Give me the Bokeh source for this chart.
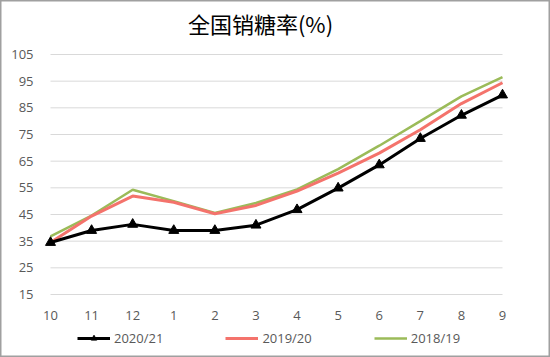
from bokeh.plotting import figure
from bokeh.models import Range1d, Legend, LegendItem, Label
from bokeh.embed import file_html
from bokeh.resources import INLINE

months = ["10", "11", "12", "1", "2", "3", "4", "5", "6", "7", "8", "9"]
s2020 = [34.5, 39.0, 41.3, 39.0, 39.0, 41.0, 46.8, 54.9, 63.6, 73.5, 82.2, 89.8]
s2019 = [34.5, 44.4, 51.9, 49.6, 45.3, 48.4, 53.8, 60.5, 68.0, 76.8, 86.6, 94.4]
s2018 = [36.8, 44.6, 54.3, 50.0, 45.6, 49.3, 54.4, 62.0, 70.8, 80.0, 89.3, 96.5]
yticks = [15, 25, 35, 45, 55, 65, 75, 85, 95, 105]
ylabels = [str(t) for t in yticks]

xs = list(range(len(months)))
W, H = 550, 357
PL, PR, PT, PB = 50, 48, 54, 63          # plot-area margins in pixels
xlo, xhi = 0, len(months) - 1
ylo, yhi = yticks[0], yticks[-1]
xpx = (W - PL - PR) / (xhi - xlo)
ypx = (H - PT - PB) / (yhi - ylo)

p = figure(width=W, height=H, output_backend="svg", toolbar_location=None,
           x_axis_location=None, y_axis_location=None,
           x_range=Range1d(xlo - PL / xpx, xhi + PR / xpx),
           y_range=Range1d(ylo - PB / ypx, yhi + PT / ypx),
           min_border=0)
p.grid.visible = False
p.outline_line_color = "#a0a0a0"
p.outline_line_width = 2
p.background_fill_color = "white"

# gridlines at the y ticks, spanning the category axis
p.segment(x0=xlo, x1=xhi, y0=yticks, y1=yticks, line_color="#d9d9d9", line_width=1)

# tick labels
p.text(x=xlo, y=yticks, text=ylabels, x_offset=-17, text_align="right", text_baseline="middle",
       text_font={"value": "Open Sans"}, text_font_size="13px", text_color="#595959")
p.text(x=xs, y=ylo, text=months, y_offset=21, text_align="center", text_baseline="middle",
       text_font={"value": "Open Sans"}, text_font_size="13px", text_color="#595959")

r3 = p.line(xs, s2018, line_color="#9bbb59", line_width=2.5)
r2 = p.line(xs, s2019, line_color="#f4736c", line_width=3)
r1 = p.line(xs, s2020, line_color="#000000", line_width=3)
m1 = p.scatter(xs, s2020, marker="triangle", size=10, fill_color="#000000", line_color="#000000")

p.add_layout(Label(x=260, y=H - 22, x_units="screen", y_units="screen", text="全国销糖率(%)",
                   text_align="center", text_baseline="middle", text_font="Noto Sans CJK SC",
                   text_font_size="22px", text_color="#000000"))

legend = Legend(items=[
    LegendItem(label="2020/21", renderers=[r1, m1]),
    LegendItem(label="2019/20", renderers=[r2]),
    LegendItem(label="2018/19", renderers=[r3]),
], orientation="horizontal", location=(77, 10),
    label_text_font="Open Sans", label_text_font_size="13px", label_text_color="#595959",
    glyph_width=33, glyph_height=14, label_height=14, label_standoff=4, spacing=62,
    border_line_color=None, background_fill_alpha=0, padding=0, margin=0)
p.add_layout(legend)

open("out.html", "w").write(file_html(p, INLINE))
